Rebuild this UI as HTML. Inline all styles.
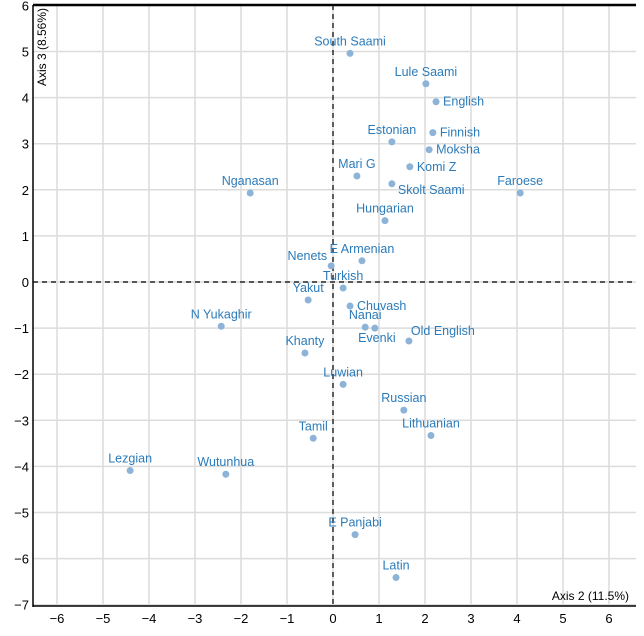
<!DOCTYPE html>
<html><head><meta charset="utf-8"><style>
body{margin:0;background:#fff}
svg{display:block;font-family:"Liberation Sans","DejaVu Sans",sans-serif}
</style></head><body>
<svg id="chart" width="644" height="636" viewBox="0 0 644 636" xmlns="http://www.w3.org/2000/svg"></svg>
<script>
const names=["South Saami","Lule Saami","English","Finnish","Estonian","Moksha","Komi Z","Mari G","Skolt Saami","Faroese","Nganasan","Hungarian","E Armenian","Nenets","Turkish","Yakut","Chuvash","N Yukaghir","Nanai","Evenki","Old English","Khanty","Luwian","Russian","Lithuanian","Tamil","Lezgian","Wutunhua","E Panjabi","Latin"];
const axis2=[0.37,2.02,2.24,2.17,1.28,2.09,1.67,0.52,1.28,4.07,-1.80,1.13,0.63,-0.04,0.22,-0.54,0.37,-2.43,0.70,0.91,1.65,-0.61,0.22,1.54,2.13,-0.43,-4.41,-2.33,0.48,1.37];
const axis3=[4.96,4.30,3.91,3.24,3.04,2.87,2.50,2.30,2.13,1.93,1.93,1.33,0.46,0.35,-0.13,-0.39,-0.52,-0.96,-0.98,-1.00,-1.28,-1.54,-2.22,-2.78,-3.33,-3.39,-4.09,-4.17,-5.48,-6.41];
const labelPos=["t","t","r","r","t","r","r","t","rb","t","t","t","t","lt","t","t","r","t","t","b","rt","t","t","t","t","t","t","t","t","t"];
const xTicks=[-6,-5,-4,-3,-2,-1,0,1,2,3,4,5,6];
const yTicks=[6,5,4,3,2,1,0,-1,-2,-3,-4,-5,-6,-7];
const NS="http://www.w3.org/2000/svg",svg=document.getElementById('chart');
const X0=333,Y0=282,SX=46,SY=46.1;
const sx=v=>X0+v*SX, sy=v=>Y0-v*SY;
const L=33,R=636,T=5,B=606;
function mk(t,a,p){const e=document.createElementNS(NS,t);for(const k in a)e.setAttribute(k,a[k]);(p||svg).appendChild(e);return e;}
xTicks.forEach(v=>{
 const g=mk('line',{x1:sx(v),x2:sx(v),y1:T,y2:B,stroke:'#dcdcdc','stroke-width':1.5});
 
 
 const t=mk('text',{x:sx(v),y:B+17,'text-anchor':'middle','font-size':13,fill:'#000'});
 t.textContent=v<0?'\u2212'+(-v):v;
 
 
});
yTicks.forEach(v=>{
 const g=mk('line',{x1:L,x2:R,y1:sy(v),y2:sy(v),stroke:'#dcdcdc','stroke-width':1.5});
 
 
 const t=mk('text',{x:L-4,y:sy(v)+5,'text-anchor':'end','font-size':13,fill:'#000'});
 t.textContent=v<0?'\u2212'+(-v):v;
 
 
});
let e;
e=mk('line',{x1:sx(0),x2:sx(0),y1:T,y2:B,stroke:'#000','stroke-width':1.2,'stroke-dasharray':'5,4'});

e=mk('line',{x1:L,x2:R,y1:sy(0),y2:sy(0),stroke:'#000','stroke-width':1.2,'stroke-dasharray':'5,4'});

e=mk('line',{x1:L,x2:R,y1:T,y2:T,stroke:'#000','stroke-width':2.5});

e=mk('line',{x1:L,x2:L,y1:T,y2:B+1,stroke:'#000','stroke-width':1.5});

e=mk('line',{x1:L,x2:R,y1:B,y2:B,stroke:'#000','stroke-width':1.5});

e=mk('text',{x:629,y:600,'text-anchor':'end','font-size':12,fill:'#000'});e.textContent='Axis 2 (11.5%)';

e=mk('text',{x:0,y:0,'text-anchor':'end','font-size':12,fill:'#000',transform:'translate(46,8) rotate(-90)'});e.textContent='Axis 3 (8.56%)';

names.forEach((n,i)=>{
 const px=sx(axis2[i]),py=sy(axis3[i]);
 const c=mk('circle',{cx:px,cy:py,r:3.5,fill:'#8db4d8'});
 
 
 let x=px,y=py-8,a='middle';
 const p=labelPos[i];
 if(p==='r'){x=px+7;y=py+4;a='start';}
 if(p==='rb'){x=px+6;y=py+10;a='start';}
 if(p==='rt'){x=px+2;y=py-6;a='start';}
 if(p==='lt'){x=px-4;y=py-6;a='end';}
 if(p==='b'){x=px+2;y=py+14;}
 const t=mk('text',{x:x,y:y,'text-anchor':a,'font-size':12.5,fill:'#2b7bba'});
 t.textContent=n;
 
 
});
</script>
</body></html>
